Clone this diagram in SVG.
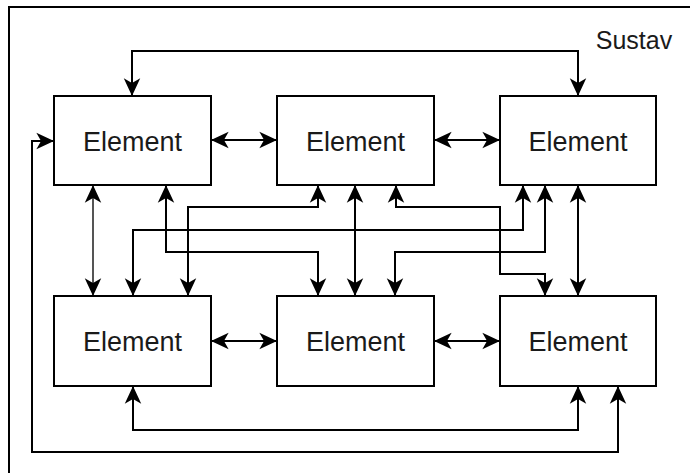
<svg xmlns="http://www.w3.org/2000/svg" width="690" height="473" viewBox="0 0 690 473">
<style>
.box{fill:#fff;stroke:#000;stroke-width:2}
.lbl{font-family:"Liberation Sans",Arial,sans-serif;font-size:27px;fill:#1a1a1a;text-anchor:middle}
.c{fill:none;stroke:#000;stroke-width:2;marker-start:url(#ah);marker-end:url(#ah)}
</style>
<defs>
<marker id="ah" markerUnits="userSpaceOnUse" markerWidth="20" markerHeight="20" viewBox="-16 -8 17 16" refX="0" refY="0" orient="auto-start-reverse">
<path d="M0,0 L-15,-7 L-11,0 L-15,7 Z" fill="#000"/>
</marker>
</defs>
<rect x="0" y="0" width="690" height="473" fill="#fff"/>
<path d="M9,473 V7 H690" fill="none" stroke="#000" stroke-width="2"/>
<text x="634" y="49" font-family="'Liberation Sans',Arial,sans-serif" font-size="25" fill="#1a1a1a" text-anchor="middle">Sustav</text>
<g id="connectors">
<path class="c" d="M211,140 H277"/>
<path class="c" d="M434,140 H500"/>
<path class="c" d="M211,341 H277"/>
<path class="c" d="M434,341 H500"/>
<path class="c" d="M132,96 V51 H578 V96"/>
<path class="c" d="M133,386 V430 H578 V386"/>
<path class="c" d="M618,386 V452 H32 V141 H54"/>
<path class="c" style="stroke:#555" d="M93,185 V296"/>
<path class="c" d="M166,185 V252 H318 V296"/>
<path class="c" d="M318,185 V207 H188 V296"/>
<path class="c" d="M523,185 V230 H133 V296"/>
<path class="c" d="M355,185 V296"/>
<path class="c" d="M396,185 V207 H500 V274 H545 V296"/>
<path class="c" d="M545,185 V252 H395 V296"/>
<path class="c" d="M578,185 V296"/>
</g>
<g id="n1"><rect class="box" x="54" y="96" width="157" height="89"/><text class="lbl" x="132.5" y="151">Element</text></g>
<g id="n2"><rect class="box" x="277" y="96" width="157" height="89"/><text class="lbl" x="355.5" y="151">Element</text></g>
<g id="n3"><rect class="box" x="500" y="96" width="156" height="89"/><text class="lbl" x="578" y="151">Element</text></g>
<g id="n4"><rect class="box" x="54" y="296" width="157" height="90"/><text class="lbl" x="132.5" y="351">Element</text></g>
<g id="n5"><rect class="box" x="277" y="296" width="157" height="90"/><text class="lbl" x="355.5" y="351">Element</text></g>
<g id="n6"><rect class="box" x="500" y="296" width="156" height="90"/><text class="lbl" x="578" y="351">Element</text></g>
</svg>
